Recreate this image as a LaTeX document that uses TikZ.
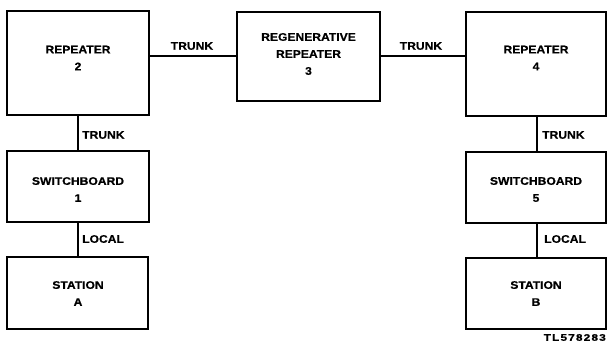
\documentclass[tikz,border=0pt]{standalone}
\usepackage{fontspec}
\setmainfont{Liberation Sans}
\newfontfamily\wideb[FakeStretch=1.1,FakeBold=0.6]{Liberation Sans Bold}
\newfontfamily\widetl[FakeStretch=1.25,LetterSpace=12,FakeBold=0.6]{Liberation Sans Bold}
\begin{document}
\begin{tikzpicture}[x=1pt,y=-1pt,
  blk/.style={draw,line width=1.8pt,inner sep=0pt},
  conn/.style={line width=1.4pt},
  lbl/.style={font=\wideb\fontsize{11}{13}\selectfont,inner sep=0pt},
  btxt/.style={font=\wideb\fontsize{11}{17}\selectfont,align=center,inner sep=0pt}]
\useasboundingbox (0,0) rectangle (607,346);
% boxes
\node[blk,minimum width=142pt,minimum height=104pt] (r2) at (78,63) {};
\node[blk,minimum width=143pt,minimum height=89pt] (r3) at (308.5,56.5) {};
\node[blk,minimum width=140pt,minimum height=104pt] (r4) at (536,64) {};
\node[blk,minimum width=142pt,minimum height=71pt] (s1) at (78,186.5) {};
\node[blk,minimum width=140pt,minimum height=71pt] (s5) at (536,187.5) {};
\node[blk,minimum width=141pt,minimum height=72pt] (sa) at (77.5,293) {};
\node[blk,minimum width=140pt,minimum height=71pt] (sb) at (536,293.5) {};
% box texts
\node[btxt] (t2) at (78,58) {REPEATER\\2};
\node[btxt] (t3) at (308.5,54) {REGENERATIVE\\REPEATER\\3};
\node[btxt] (t4) at (536,58) {REPEATER\\4};
\node[btxt] (t1) at (78,189.5) {SWITCHBOARD\\1};
\node[btxt] (t5) at (536,189.5) {SWITCHBOARD\\5};
\node[btxt] (ta) at (78,293.5) {STATION\\A};
\node[btxt] (tb) at (536,293.5) {STATION\\B};
% connectors
\coordinate (c2) at (149,56);
\coordinate (c3l) at (237,56);
\coordinate (c3r) at (380,56);
\coordinate (c4) at (466,56);
\draw[conn] (c2) -- (c3l);
\draw[conn] (c3r) -- (c4);
\draw[conn] (r2.south -| 78,0) -- (s1.north -| 78,0);
\draw[conn] (s1.south -| 78,0) -- (sa.north -| 78,0);
\draw[conn] (r4.south -| 537,0) -- (s5.north -| 537,0);
\draw[conn] (s5.south -| 537,0) -- (sb.north -| 537,0);
% labels
\node[lbl] (l1) at (192,46) {TRUNK};
\node[lbl] (l2) at (421,46) {TRUNK};
\node[lbl,anchor=west] (l3) at (82,135) {TRUNK};
\node[lbl,anchor=west] (l4) at (542,135) {TRUNK};
\node[lbl,anchor=west] (l5) at (82,239) {LOCAL};
\node[lbl,anchor=west] (l6) at (544,239) {LOCAL};
\node[font=\widetl\fontsize{9.5}{10}\selectfont,inner sep=0pt,anchor=east] (tl) at (606,337.5) {TL578283};
\end{tikzpicture}
\end{document}
